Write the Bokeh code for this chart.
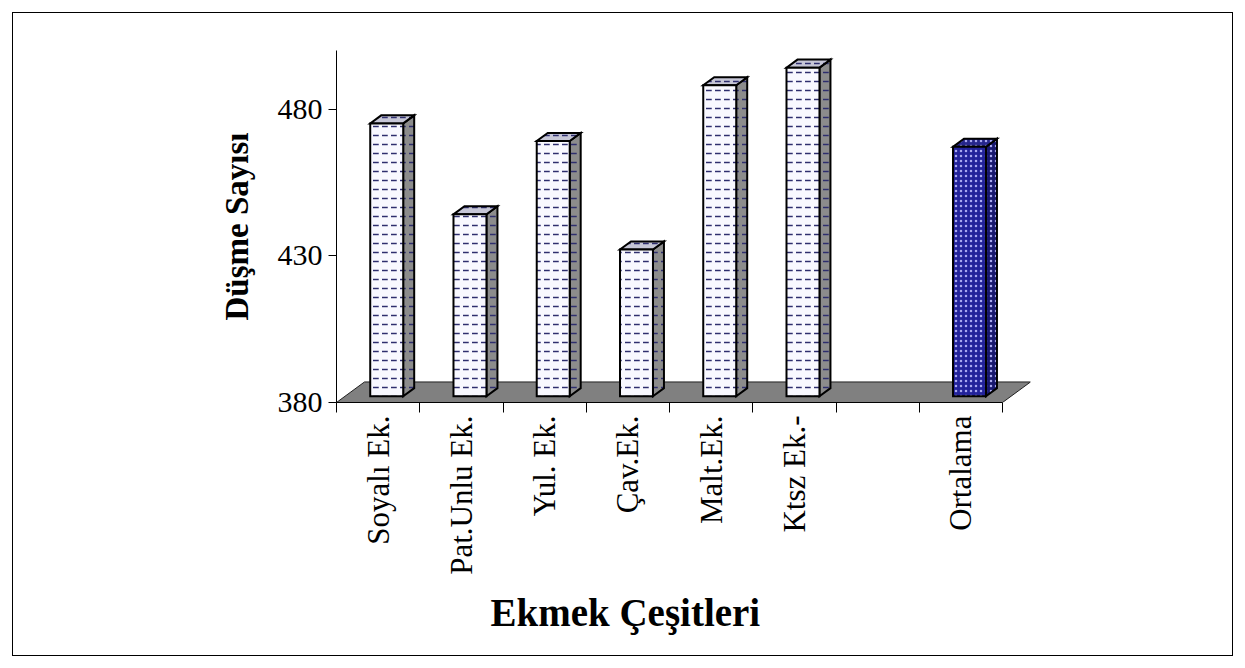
import numpy as np
from bokeh.plotting import figure
from bokeh.layouts import column
from bokeh.models import ColumnDataSource, FixedTicker, Title, Range1d
from bokeh.embed import file_html
from bokeh.resources import INLINE

# ---- data -------------------------------------------------------------
bread_types = ["Soyalı Ek.", "Pat.Unlu Ek.", "Yul. Ek.", "Çav.Ek.", "Malt.Ek.", "Ktsz Ek.-"]
fall_counts = [473, 442, 467, 430, 486, 492]
mean_label = "Ortalama"
y_ticks = [380, 430, 480]
y_title = "Düşme Sayısı"
x_title = "Ekmek Çeşitleri"

BASE, TOP = 380, 500
mean_value = sum(fall_counts) / len(fall_counts)

labels = bread_types + [mean_label]
vals = fall_counts + [mean_value]
# one empty slot between the breads and the average column
slots = list(range(len(bread_types))) + [len(bread_types) + 1]
n_slots = len(bread_types) + 2
is_mean = [False] * len(bread_types) + [True]

# ---- pseudo-3D geometry (oblique projection, data units) ---------------
DEPTH_X, DEPTH_Y = 0.336, 7.0      # full floor depth vector
F_FRONT, F_BACK = 0.307, 0.70      # column front/back as fraction of depth
HALF_W = 0.198

fx, fy = F_FRONT * DEPTH_X, F_FRONT * DEPTH_Y
ddx, ddy = (F_BACK - F_FRONT) * DEPTH_X, (F_BACK - F_FRONT) * DEPTH_Y

front_xs, front_ys, side_xs, side_ys, top_xs, top_ys = [], [], [], [], [], []
for s, v in zip(slots, vals):
    x0, x1 = s - HALF_W + fx, s + HALF_W + fx
    y0, y1 = BASE + fy, v + fy
    front_xs.append([x0, x1, x1, x0]); front_ys.append([y0, y0, y1, y1])
    side_xs.append([x1, x1 + ddx, x1 + ddx, x1]); side_ys.append([y0, y0 + ddy, y1 + ddy, y1])
    top_xs.append([x0, x1, x1 + ddx, x0 + ddx]); top_ys.append([y1, y1, y1 + ddy, y1 + ddy])

def pick(a, b):
    return [b if m else a for m in is_mean]

src = ColumnDataSource(dict(
    fxs=front_xs, fys=front_ys, sxs=side_xs, sys=side_ys, txs=top_xs, tys=top_ys,
    front_fill=pick("#f8f8ff", "#22229a"),
    side_fill=pick("#8c8c8c", "#17176e"),
    top_fill=pick("#c6c6d6", "#26268c"),
    pattern=pick("horizontal_dash", "dot"),
    hatch=pick("#2e2e6e", "#a8a8f0"),
    hscale=pick(9, 5),
))

SERIF = "Liberation Serif"

# chart sits inside a 1px bordered box, 12px in from the page edge
p = figure(width=1219, height=642, output_backend="svg", toolbar_location=None,
           x_range=Range1d(-0.5, n_slots - 0.5 + DEPTH_X), y_range=Range1d(BASE, TOP),
           min_border_left=323, min_border_right=202, min_border_top=37, min_border_bottom=253)
p.grid.visible = False
p.outline_line_color = None
p.background_fill_color = "white"
p.border_fill_color = "white"

# floor
p.patch([-0.5, n_slots - 0.5, n_slots - 0.5 + DEPTH_X, -0.5 + DEPTH_X],
        [BASE, BASE, BASE + DEPTH_Y, BASE + DEPTH_Y],
        fill_color="#808080", line_color="#202020", line_width=1)

common = dict(source=src, line_color="black", line_width=2, line_join="miter",
              hatch_pattern="pattern", hatch_color="hatch", hatch_scale="hscale", hatch_weight=1.5)
p.patches("sxs", "sys", fill_color="side_fill", **common)
p.patches("txs", "tys", fill_color="top_fill", **common)
p.patches("fxs", "fys", fill_color="front_fill", **common)

# x axis: labels at column centres, separators as minor ticks
xa = p.xaxis[0]
xa.ticker = FixedTicker(ticks=slots, minor_ticks=[i - 0.5 for i in range(n_slots + 1)])
xa.major_label_overrides = {s: lab for s, lab in zip(slots, labels)}
xa.major_label_orientation = np.pi / 2
xa.major_label_text_font = SERIF
xa.major_label_text_font_size = "31px"
xa.major_label_text_color = "black"
xa.major_label_standoff = 3
xa.major_tick_line_color = None
xa.major_tick_out = 0
xa.major_tick_in = 0
xa.minor_tick_line_color = "black"
xa.minor_tick_out = 10
xa.minor_tick_in = 0
xa.axis_line_color = "black"
xa.bounds = (-0.5, n_slots - 0.5)

ya = p.yaxis[0]
ya.ticker = FixedTicker(ticks=y_ticks)
ya.major_label_text_font = SERIF
ya.major_label_text_font_size = "30px"
ya.major_label_text_color = "black"
ya.major_label_standoff = 6
ya.major_tick_out = 8
ya.major_tick_in = 0
ya.minor_tick_line_color = None
ya.axis_line_color = "black"
ya.axis_label = y_title
ya.axis_label_text_font = SERIF
ya.axis_label_text_font_style = "bold"
ya.axis_label_text_font_size = "33px"
ya.axis_label_text_color = "black"
ya.axis_label_standoff = 20

p.add_layout(Title(text=x_title, text_font=SERIF, text_font_style="bold",
                   text_font_size="39px", text_color="black",
                   align="left", offset=154, standoff=22), "below")

page = column(p, styles={"border": "1px solid black", "margin": "12px"})

open("out.html", "w").write(file_html(page, INLINE))
